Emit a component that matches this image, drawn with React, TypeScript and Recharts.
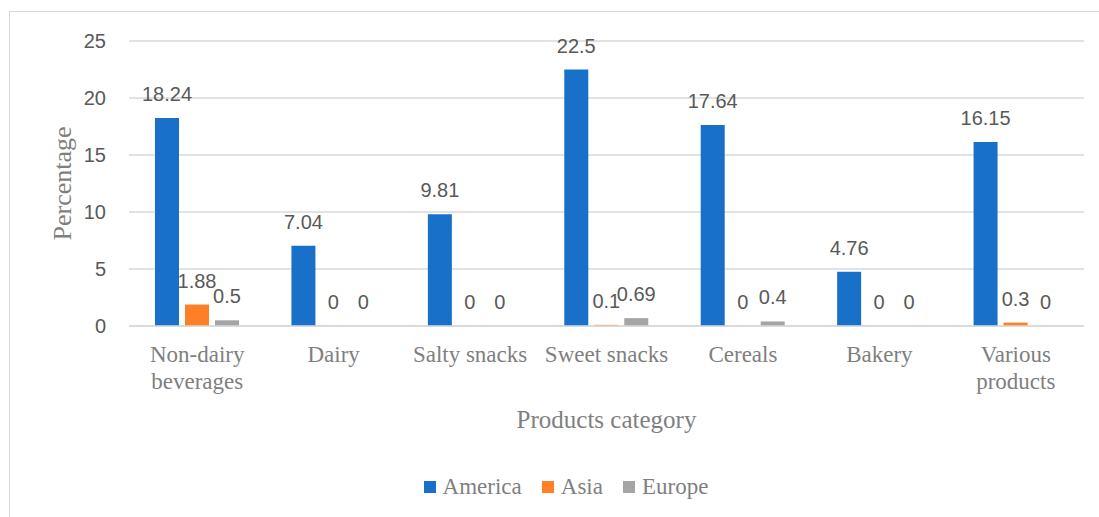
import React from "react";
import {
  BarChart,
  Bar,
  XAxis,
  YAxis,
  CartesianGrid,
  Legend,
  LabelList,
  Label,
} from "recharts";

const categories = [
  "Non-dairy beverages",
  "Dairy",
  "Salty snacks",
  "Sweet snacks",
  "Cereals",
  "Bakery",
  "Various products",
];
const tickLines = [
  ["Non-dairy", "beverages"],
  ["Dairy"],
  ["Salty snacks"],
  ["Sweet snacks"],
  ["Cereals"],
  ["Bakery"],
  ["Various", "products"],
];
const america = [18.24, 7.04, 9.81, 22.5, 17.64, 4.76, 16.15];
const asia = [1.88, 0, 0, 0.1, 0, 0, 0.3];
const europe = [0.5, 0, 0, 0.69, 0.4, 0, 0];
const yTicks = [0, 5, 10, 15, 20, 25];

const series = [
  { key: "America", color: "#1870C8" },
  { key: "Asia", color: "#FF7F27" },
  { key: "Europe", color: "#A5A5A5" },
];

const data = categories.map((c, i) => ({
  name: c,
  America: america[i],
  Asia: asia[i],
  Europe: europe[i],
}));

const serif = "Liberation Serif";
const sans = "Liberation Sans";

const XTick = (props: any) => {
  const { x, y, payload } = props;
  const lines = tickLines[payload.index] || [payload.value];
  return (
    <text x={x} y={y} textAnchor="middle" fill="#7F7F7F" fontSize={23} style={{ fontFamily: serif }}>
      {lines.map((l: string, i: number) => (
        <tspan key={i} x={x} dy={i === 0 ? 36 : 27}>
          {l}
        </tspan>
      ))}
    </text>
  );
};

const LegendBox = () => (
  <div
    style={{
      display: "flex",
      justifyContent: "center",
      alignItems: "center",
      fontFamily: serif,
      fontSize: 23,
      color: "#7F7F7F",
      width: 1132,
    }}
  >
    {series.map((s) => (
      <div key={s.key} style={{ display: "flex", alignItems: "center", margin: "0 10px" }}>
        <span style={{ width: 12, height: 12, background: s.color, marginRight: 7, display: "inline-block" }} />
        <span>{s.key}</span>
      </div>
    ))}
  </div>
);

export default function App() {
  return (
    <div style={{ position: "fixed", left: 0, top: 0, width: 1099, height: 517, overflow: "hidden", background: "#fff" }}>
      <div
        style={{
          position: "absolute",
          left: 9,
          top: 11,
          width: 1200,
          height: 600,
          border: "1px solid #D9D9D9",
        }}
      />
      <div style={{ position: "absolute", left: 0, top: 0 }}>
        <BarChart
          width={1099}
          height={517}
          data={data}
          margin={{ top: 41, right: 15, left: 0, bottom: 131 }}
          barSize={24}
          barGap={6}
        >
          <CartesianGrid vertical={false} stroke="#D9D9D9" strokeWidth={1.5} />
          <XAxis
            dataKey="name"
            tick={<XTick />}
            tickLine={false}
            tickSize={0}
            tickMargin={0}
            height={60}
            axisLine={{ stroke: "#D9D9D9", strokeWidth: 1.5 }}
            interval={0}
          >
            <Label
              content={(p: any) => {
                const vb = p.viewBox || {};
                return (
                  <text
                    x={vb.x + vb.width / 2}
                    y={vb.y + 102}
                    textAnchor="middle"
                    fill="#7F7F7F"
                    fontSize={25}
                    style={{ fontFamily: serif }}
                  >
                    Products category
                  </text>
                );
              }}
            />
          </XAxis>
          <YAxis
            width={129}
            domain={[0, 25]}
            ticks={yTicks}
            axisLine={false}
            tickLine={false}
            tickSize={0}
            tickMargin={23}
            tick={{ fill: "#595959", fontSize: 20, fontFamily: sans }}
          >
            <Label
              content={(p: any) => {
                const vb = p.viewBox || {};
                const cx = vb.x + 62;
                const cy = vb.y + vb.height / 2;
                return (
                  <text
                    x={cx}
                    y={cy}
                    transform={`rotate(-90 ${cx} ${cy})`}
                    textAnchor="middle"
                    dominantBaseline="central"
                    fill="#7F7F7F"
                    fontSize={26}
                    style={{ fontFamily: serif }}
                  >
                    Percentage
                  </text>
                );
              }}
            />
          </YAxis>
          <Legend
            layout="horizontal"
            verticalAlign="middle"
            content={() => <LegendBox />}
            wrapperStyle={{ left: 0, top: 474, width: 1132 }}
          />
          {series.map((s) => (
            <Bar key={s.key} dataKey={s.key} fill={s.color} minPointSize={0.01} isAnimationActive={false}>
              <LabelList
                dataKey={s.key}
                position="top"
                offset={17}
                fill="#595959"
                fontSize={20}
                fontFamily={sans}
              />
            </Bar>
          ))}
        </BarChart>
      </div>
    </div>
  );
}
